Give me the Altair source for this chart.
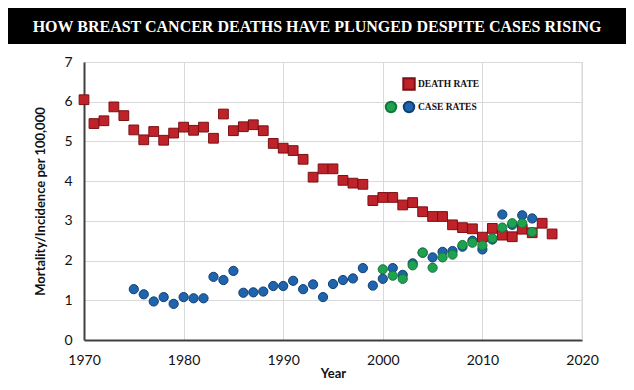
import altair as alt
import pandas as pd

# ---- data ----
death_years = list(range(1970, 2018))
death_rate = [6.05, 5.45, 5.52, 5.87, 5.65, 5.29, 5.04, 5.25, 5.03, 5.21,
              5.36, 5.28, 5.36, 5.08, 5.69, 5.27, 5.37, 5.42, 5.27, 4.95,
              4.83, 4.77, 4.55, 4.10, 4.31, 4.31, 4.02, 3.95, 3.92, 3.51,
              3.59, 3.59, 3.40, 3.46, 3.23, 3.11, 3.11, 2.90, 2.83, 2.80,
              2.59, 2.81, 2.64, 2.60, 2.79, 2.70, 2.94, 2.67]

blue_years = list(range(1975, 2016))
blue_rate = [1.28, 1.15, 0.97, 1.08, 0.91, 1.08, 1.05, 1.05, 1.59, 1.51,
             1.74, 1.19, 1.20, 1.22, 1.36, 1.36, 1.49, 1.28, 1.40, 1.08,
             1.41, 1.51, 1.55, 1.81, 1.37, 1.54, 1.81, 1.64, 1.93, 2.20,
             2.08, 2.22, 2.24, 2.35, 2.50, 2.28, 2.53, 3.16, 2.90, 3.14, 3.06]

green_years = list(range(2000, 2016))
green_rate = [1.78, 1.62, 1.54, 1.88, 2.20, 1.82, 2.08, 2.15, 2.39, 2.45,
              2.38, 2.56, 2.83, 2.94, 2.94, 2.72]

x_ticks = [1970, 1980, 1990, 2000, 2010, 2020]
y_ticks = [0, 1, 2, 3, 4, 5, 6, 7]

title_text = "HOW BREAST CANCER DEATHS HAVE PLUNGED DESPITE CASES RISING"
y_title = "Mortality/Incidence per 100,000"
x_title = "Year"

death_df = pd.DataFrame({"year": death_years, "rate": death_rate})
blue_df = pd.DataFrame({"year": blue_years, "rate": blue_rate})
green_df = pd.DataFrame({"year": green_years, "rate": green_rate})

W, H = 498, 278
FONT = "Lato"

xs = alt.Scale(domain=[1970, 2020], nice=False)
ys = alt.Scale(domain=[0, 7], nice=False)

x_axis = alt.Axis(values=x_ticks, format="d", title=x_title, grid=True,
                  gridColor="#d9d9d9", domain=True, domainColor="#404040",
                  domainWidth=2, ticks=False, labelFontSize=14, labelColor="#111",
                  labelFont=FONT, labelPadding=13, labelFlush=False,
                  labelOverlap=False, titleFont=FONT,
                  titleFontSize=13, titleFontWeight="bold", titleColor="#111",
                  titlePadding=0)
y_axis = alt.Axis(values=y_ticks, title=y_title, grid=True, gridColor="#d9d9d9",
                  domain=True, domainColor="#404040", domainWidth=2, ticks=False,
                  labelFontSize=14, labelColor="#111", labelFont=FONT,
                  labelPadding=12, labelFlush=False, labelOverlap=False,
                  titleFont=FONT, titleFontSize=13,
                  titleFontWeight="bold", titleColor="#111", titlePadding=16)


def enc(ch):
    return ch.encode(x=alt.X("year:Q", scale=xs, axis=x_axis),
                     y=alt.Y("rate:Q", scale=ys, axis=y_axis))


death = enc(alt.Chart(death_df).mark_square(size=95, fill="#c0222a", stroke="#7a1014",
                                            strokeWidth=1, opacity=1))
blue = enc(alt.Chart(blue_df).mark_circle(size=85, fill="#1f64ad", stroke="#0f3f73",
                                          strokeWidth=1, opacity=1))
green = enc(alt.Chart(green_df).mark_circle(size=85, fill="#1ea24f", stroke="#12763a",
                                            strokeWidth=1, opacity=1))

one = pd.DataFrame({"k": [0]})
right_edge = alt.Chart(one).mark_rule(color="#d9d9d9", strokeWidth=1).encode(
    x=alt.value(W), y=alt.value(0), y2=alt.value(H))

# title banner
banner = alt.Chart(one).mark_rect(color="#000000").encode(
    x=alt.value(-76), x2=alt.value(542), y=alt.value(-54), y2=alt.value(-18))
banner_text = alt.Chart(one).mark_text(
    text=title_text, color="#ffffff", font="Liberation Serif",
    fontWeight="bold", fontSize=16, align="center", baseline="middle").encode(
    x=alt.value(233), y=alt.value(-35))

# manual legend
leg_sq = alt.Chart(one).mark_square(size=130, fill="#c0222a", stroke="#7a1014",
                                    opacity=1).encode(x=alt.value(325), y=alt.value(22))
leg_g = alt.Chart(one).mark_circle(size=110, fill="#1ea24f", stroke="#12763a",
                                   opacity=1).encode(x=alt.value(307), y=alt.value(45))
leg_b = alt.Chart(one).mark_circle(size=110, fill="#1f64ad", stroke="#0f3f73",
                                   opacity=1).encode(x=alt.value(325), y=alt.value(45))
leg_t1 = alt.Chart(one).mark_text(text="DEATH RATE", font="Liberation Serif",
                                  fontWeight="bold", fontSize=9.5, align="left",
                                  baseline="middle", color="#111").encode(
    x=alt.value(334), y=alt.value(22))
leg_t2 = alt.Chart(one).mark_text(text="CASE RATES", font="Liberation Serif",
                                  fontWeight="bold", fontSize=9.5, align="left",
                                  baseline="middle", color="#111").encode(
    x=alt.value(334), y=alt.value(45))

chart = alt.layer(death, blue, green, right_edge, banner, banner_text,
                  leg_sq, leg_g, leg_b, leg_t1, leg_t2).properties(
    width=W, height=H,
    autosize=alt.AutoSizeParams(type="none"),
    padding={"left": 76, "top": 54, "right": 44, "bottom": 42},
).configure_view(stroke=None).configure(background="#ffffff")

chart.save("out.html", embed_options={"renderer": "svg", "actions": False})
